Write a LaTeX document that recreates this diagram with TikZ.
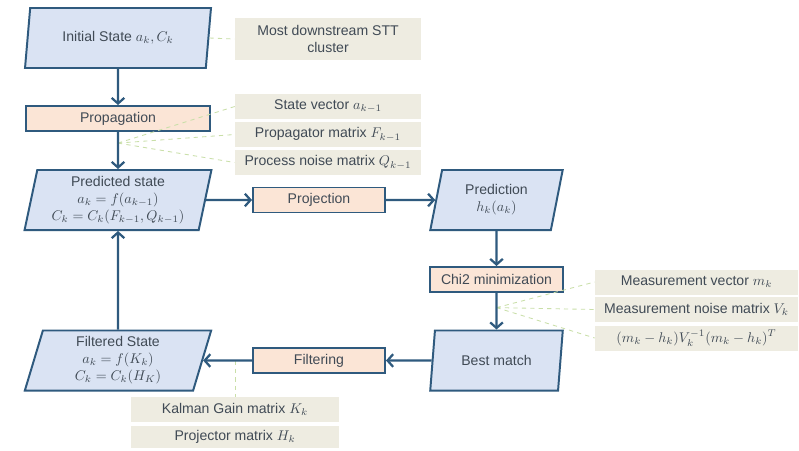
\documentclass[tikz,border=0pt]{standalone}
\usepackage{fontspec}
\setmainfont{Liberation Sans}
\usetikzlibrary{shapes.geometric,arrows.meta,calc}
\definecolor{edgeblue}{HTML}{2F5A7E}
\definecolor{statefill}{HTML}{DAE3F3}
\definecolor{stepfill}{HTML}{FBE5D6}
\definecolor{notefill}{HTML}{EEECE1}
\definecolor{hintgreen}{HTML}{C9DFA8}
\definecolor{txt}{HTML}{404A55}

\begin{document}
\begin{tikzpicture}[x=0.025cm, y=-0.025cm, font=\fontsize{10}{12}\selectfont, text=txt,
  state/.style={trapezium, trapezium left angle=78, trapezium right angle=102, trapezium stretches=true,
    draw=edgeblue, line width=1.4pt, fill=statefill, minimum width=4.675cm, minimum height=1.5cm, align=center, inner sep=1pt},
  stepbox/.style={rectangle, draw=edgeblue, line width=1.4pt, fill=stepfill, minimum height=0.625cm},
  note/.style={rectangle, fill=notefill, minimum width=4.65cm, minimum height=0.625cm, inner sep=1pt},
  flow/.style={-{Straight Barb[length=4pt,width=9pt]}, draw=edgeblue, line width=1.6pt},
  hint/.style={draw=hintgreen, dashed, line width=0.6pt}]
  \useasboundingbox[fill=white] (0,0) rectangle (799,450);

  % left column
  \node[state] (init) at (118,38) {Initial State $a_k, C_k$};
  \node[stepbox, minimum width=4.575cm] (prop) at (118,118.5) {Propagation};
  \node[state] (pred) at (118,200) {Predicted state\\ $a_k = f(a_{k-1})$\\ $C_k = C_k(F_{k-1},Q_{k-1})$};
  \node[state] (filtered) at (118,360.5) {Filtered State\\ $a_k = f(K_k)$\\ $C_k = C_k(H_K)$};

  % middle and right column
  \node[stepbox, minimum width=3.3cm] (projection) at (319,200) {Projection};
  \node[state, minimum width=3.325cm] (prediction) at (496.5,200) {Prediction\\ $h_k(a_k)$};
  \node[stepbox, minimum width=3.325cm] (chi) at (496.5,279.5) {Chi2 minimization};
  \node[state, minimum width=3.325cm] (best) at (496.5,360.5) {Best match};
  \node[stepbox, minimum width=3.3cm] (filtering) at (319,360.5) {Filtering};

  % side notes
  \node[note, minimum height=1.05cm, align=center] (downstream) at (328,39) {Most downstream STT\\cluster};
  \node[note] (statevec) at (328,106.5) {State vector $a_{k-1}$};
  \node[note] (propmat) at (328,134.5) {Propagator matrix $F_{k-1}$};
  \node[note] (noise) at (328,162.5) {Process noise matrix $Q_{k-1}$};
  \node[note, minimum width=5.075cm] (measvec) at (696.5,282) {Measurement vector $m_k$};
  \node[note, minimum width=5.075cm] (measnoise) at (696.5,309.5) {Measurement noise matrix $V_k$};
  \node[note, minimum width=5.075cm] (chiform) at (696.5,338) {$(m_k-h_k)V_k^{-1}(m_k-h_k)^T$};
  \node[note, minimum width=5.2cm] (gain) at (235,409.5) {Kalman Gain matrix $K_k$};
  \node[note, minimum width=5.2cm, minimum height=0.55cm] (projector) at (235,437) {Projector matrix $H_k$};

  % dashed hints
  \coordinate (prophint) at ($(prop.south)!0.3!(pred.north)$);
  \coordinate (chihint) at ($(chi.south)!0.4!(best.north)$);
  \draw[hint] (init.east) -- (downstream.west);
  \draw[hint] (prophint) -- (statevec.west);
  \draw[hint] (prophint) -- (propmat.west);
  \draw[hint] (prophint) -- (noise.west);
  \draw[hint] (chihint) -- (measvec.west);
  \draw[hint] (chihint) -- (measnoise.west);
  \draw[hint] (chihint) -- (chiform.west);
  \draw[hint] (gain.north |- filtering.west) -- (gain.north);

  % flow
  \draw[flow] (init) -- (prop);
  \draw[flow] (prop) -- (pred);
  \draw[flow] (pred) -- (projection);
  \draw[flow] (projection) -- (prediction);
  \draw[flow] (prediction) -- (chi);
  \draw[flow] (chi) -- (best);
  \draw[flow] (best) -- (filtering);
  \draw[flow] (filtering) -- (filtered);
  \draw[flow] (filtered) -- (pred);
\end{tikzpicture}
\end{document}
